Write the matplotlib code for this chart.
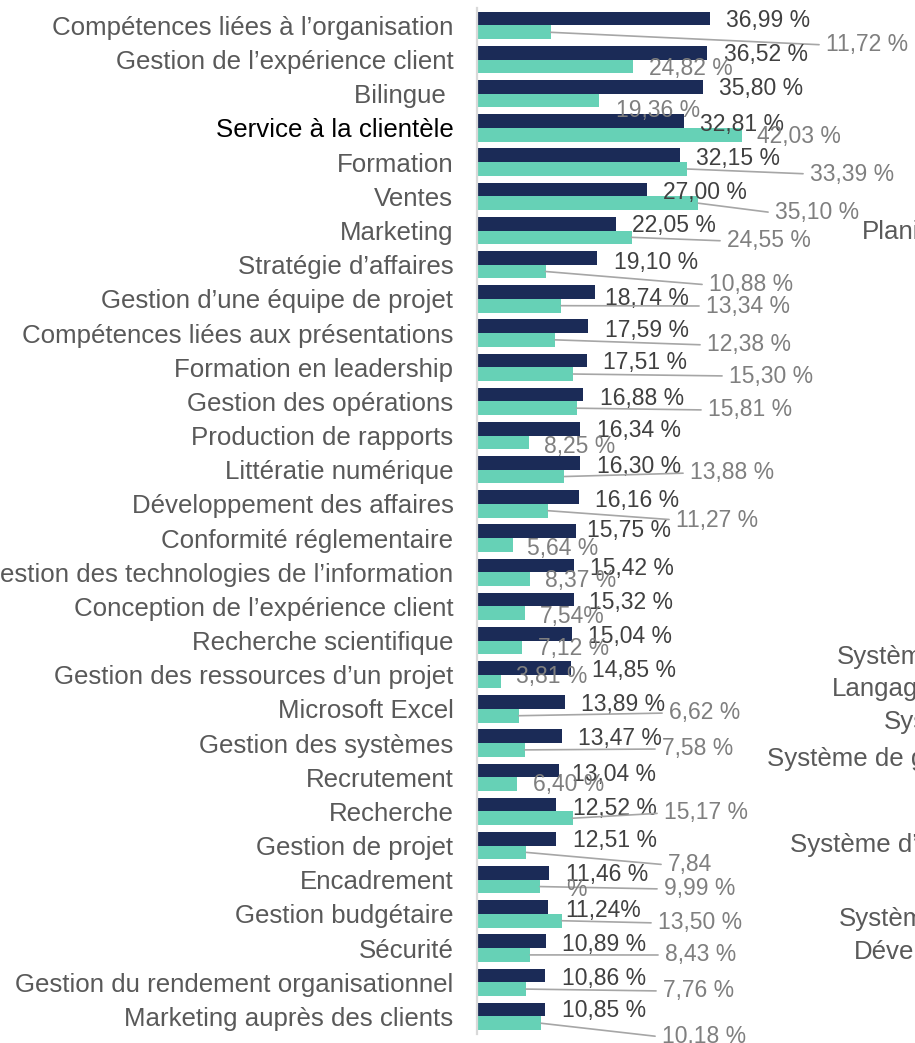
import matplotlib
matplotlib.use("Agg")
import matplotlib.pyplot as plt
import numpy as np

plt.rcParams["font.family"] = ["Liberation Sans", "DejaVu Sans"]

# categories, top to bottom
categories = [
    "Compétences liées à l’organisation", "Gestion de l’expérience client",
    "Bilingue ", "Service à la clientèle", "Formation", "Ventes", "Marketing",
    "Stratégie d’affaires", "Gestion d’une équipe de projet",
    "Compétences liées aux présentations", "Formation en leadership",
    "Gestion des opérations", "Production de rapports", "Littératie numérique",
    "Développement des affaires", "Conformité réglementaire",
    "Gestion des technologies de l’information",
    "Conception de l’expérience client", "Recherche scientifique",
    "Gestion des ressources d’un projet", "Microsoft Excel",
    "Gestion des systèmes", "Recrutement", "Recherche", "Gestion de projet",
    "Encadrement", "Gestion budgétaire", "Sécurité",
    "Gestion du rendement organisationnel", "Marketing auprès des clients",
]
# dark series (%)
dark_vals = [36.99, 36.52, 35.80, 32.81, 32.15, 27.00, 22.05, 19.10, 18.74, 17.59,
             17.51, 16.88, 16.34, 16.30, 16.16, 15.75, 15.42, 15.32, 15.04, 14.85,
             13.89, 13.47, 13.04, 12.52, 12.51, 11.46, 11.24, 10.89, 10.86, 10.85]
# teal series (%)
teal_vals = [11.72, 24.82, 19.36, 42.03, 33.39, 35.10, 24.55, 10.88, 13.34, 12.38,
             15.30, 15.81, 8.25, 13.88, 11.27, 5.64, 8.37, 7.54, 7.12, 3.81,
             6.62, 7.58, 6.40, 15.17, 7.84, 9.99, 13.50, 8.43, 7.76, 10.18]
# label texts as shown on the chart
dark_text = [f"{v:.2f} %".replace(".", ",") for v in dark_vals]
dark_text[26] = "11,24%"
teal_text = [f"{v:.2f} %".replace(".", ",") for v in teal_vals]
teal_text[17] = "7,54%"
teal_text[24] = "7,84"

# label placement (pixels from top-left of image: left x, centre y)
dark_pos = [(726, 19), (724, 53), (719, 87), (700, 122), (696, 156), (663, 191),
            (632, 224), (614, 260), (605, 297), (605, 328), (603, 361), (600, 396),
            (597, 429), (597, 464), (595, 498), (587, 529), (590, 566), (589, 600),
            (588, 635), (592, 669), (581, 703), (578, 737), (572, 772), (573, 806),
            (573, 839), (566, 873), (565, 908), (562, 942), (562, 976), (562, 1008)]
teal_pos = [(826, 43), (649, 67), (616, 108), (757, 135), (810, 172), (775, 211),
            (727, 239), (709, 283), (706, 304), (707, 343), (729, 374), (708, 408),
            (544, 444), (690, 471), (676, 518), (527, 546), (545, 579), (540, 614),
            (538, 647), (516, 675), (669, 711), (662, 747), (533, 783), (664, 811),
            (668, 863), (664, 887), (658, 921), (665, 953), (663, 989), (662, 1035)]
leaders = {0, 4, 5, 6, 7, 8, 9, 10, 11, 13, 14, 20, 21, 23, 24, 25, 26, 27, 28, 29}

# cut-off labels of the neighbouring chart on the right
side_text = ["Planification", "Systèmes", "Langages", "Systèmes",
             "Système de gestion", "Système d’exploitation", "Systèmes",
             "Développement"]
side_pos = [(862, 230), (837, 655), (832, 687), (884, 720), (767, 757),
            (790, 843), (839, 917), (854, 950)]

W, H = 915, 1043
fs = 16.5      # value labels
fs_cat = 18.6  # category labels
dy = 2  # bbox centre sits below the visual centre of the digits

def fig_xy(p):
    return (p[0] / W, 1 - (p[1] + dy) / H)

fig = plt.figure(figsize=(W / 100, H / 100), dpi=100)
ax = fig.add_axes([477 / W, 1 - 1033.5 / H, 438 / W, (1033.5 - 8.4) / H])

y = np.arange(len(categories))
ax.barh(y - 0.2, dark_vals, height=0.4, color="#1b2b57")
ax.barh(y + 0.2, teal_vals, height=0.4, color="#66d1b6")

ax.set_xlim(0, 438 / 6.3)
ax.set_ylim(len(categories) - 0.5, -0.5)
ax.set_xticks([])
ax.set_yticks(y)
ax.set_yticklabels(categories, fontsize=fs_cat, color="#595959")
ax.get_yticklabels()[3].set_color("black")
ax.tick_params(axis="y", length=0, pad=17)
for s in ["top", "right", "bottom"]:
    ax.spines[s].set_visible(False)
ax.spines["left"].set_color("#d9d9d9")
ax.spines["left"].set_linewidth(1.6)

for i in range(len(categories)):
    ax.annotate(dark_text[i], xy=(dark_vals[i], i - 0.2), xytext=fig_xy(dark_pos[i]),
                textcoords="figure fraction", ha="left", va="center",
                fontsize=fs, color="#404040", annotation_clip=False)
    arrow = None
    if i in leaders:
        arrow = dict(arrowstyle="-", color="#a6a6a6", lw=1.2, shrinkA=3, shrinkB=0,
                     relpos=(0, 0.5))
    ax.annotate(teal_text[i], xy=(teal_vals[i], i + 0.2), xytext=fig_xy(teal_pos[i]),
                textcoords="figure fraction", ha="left", va="center",
                fontsize=fs, color="#7f7f7f", arrowprops=arrow, annotation_clip=False)

# stray wrapped "%" of the 7,84 label
fig.text(*fig_xy((566, 888)), "%", ha="left", va="center", fontsize=fs, color="#7f7f7f")

for t, p in zip(side_text, side_pos):
    fig.text(*fig_xy(p), t, ha="left", va="center", fontsize=fs_cat, color="#595959")

fig.savefig("out.png", dpi=100)
